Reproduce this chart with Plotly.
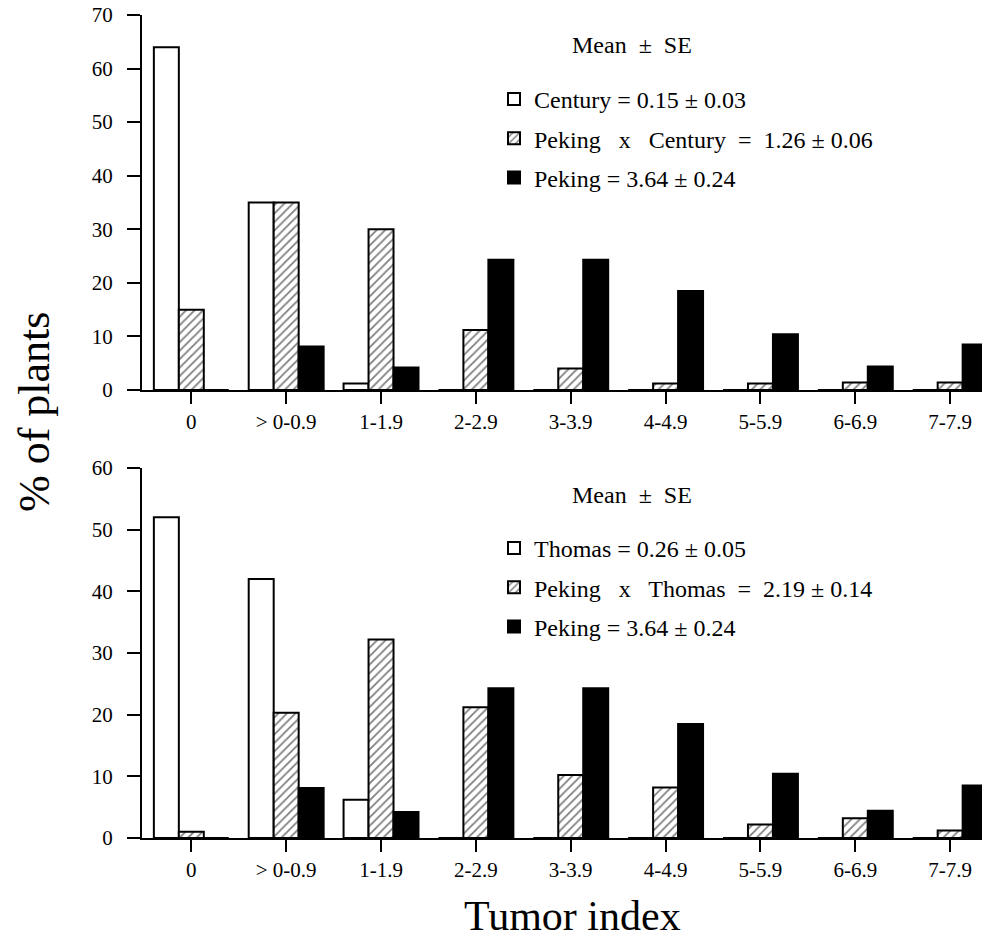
import plotly.graph_objects as go

categories = ["0", "> 0-0.9", "1-1.9", "2-2.9", "3-3.9", "4-4.9", "5-5.9", "6-6.9", "7-7.9"]

century = [64, 35, 1.2, 0, 0, 0, 0, 0, 0]
peking_x_century = [15, 35, 30, 11.2, 4, 1.2, 1.2, 1.4, 1.4]
thomas = [52, 42, 6.2, 0, 0, 0, 0, 0, 0]
peking_x_thomas = [1, 20.3, 32.2, 21.2, 10.2, 8.2, 2.2, 3.2, 1.2]
peking = [0, 8.1, 4.2, 24.3, 24.3, 18.5, 10.4, 4.4, 8.5]

top_labels = ["Century = 0.15 ± 0.03", "Peking   x   Century  =  1.26 ± 0.06", "Peking = 3.64 ± 0.24"]
bot_labels = ["Thomas = 0.26 ± 0.05", "Peking   x   Thomas  =  2.19 ± 0.14", "Peking = 3.64 ± 0.24"]

FONT = "Liberation Serif"
# page body has an 8px default margin; figure is sized to fit the window
W, H = 982, 932

white = dict(color="white", line=dict(color="black", width=2))
hatch = dict(color="white", line=dict(color="black", width=2),
             pattern=dict(shape="/", fgcolor="black", bgcolor="white", size=6, solidity=0.3))
black = dict(color="black", line=dict(color="black", width=2))

fig = go.Figure()
series_top = [(century, white, top_labels[0]), (peking_x_century, hatch, top_labels[1]), (peking, black, top_labels[2])]
series_bot = [(thomas, white, bot_labels[0]), (peking_x_thomas, hatch, bot_labels[1]), (peking, black, bot_labels[2])]

for i, (vals, mk, name) in enumerate(series_top):
    fig.add_trace(go.Bar(x=categories, y=vals, marker=mk, name=name, xaxis="x", yaxis="y",
                         offsetgroup=str(i), legend="legend", legendgroup="t%d" % i))
for i, (vals, mk, name) in enumerate(series_bot):
    fig.add_trace(go.Bar(x=categories, y=vals, marker=mk, name=name, xaxis="x2", yaxis="y2",
                         offsetgroup=str(i), legend="legend2", legendgroup="b%d" % i))

xdom = [134 / W, 1.0]
ytop = [1 - 382 / H, 1 - 7 / H]
ybot = [1 - 830 / H, 1 - 460 / H]

axis_common = dict(showline=True, linecolor="black", linewidth=2, ticks="outside",
                   tickcolor="black", tickwidth=1.5, showgrid=False, zeroline=False,
                   tickfont=dict(family=FONT, size=21, color="black"), automargin=False,
                   ticklabeloverflow="allow")

xr = [-0.52, 8.42]
legend_font = dict(family=FONT, size=24, color="black")
fig.update_layout(
    width=W, height=H,
    margin=dict(l=0, r=0, t=0, b=0),
    paper_bgcolor="white", plot_bgcolor="white",
    barmode="group", bargap=0.21, bargroupgap=0,
    font=dict(family=FONT, color="black"),
    xaxis=dict(domain=xdom, anchor="y", range=xr, ticklen=12, **axis_common),
    yaxis=dict(domain=ytop, anchor="x", range=[0, 70], tickvals=[0, 10, 20, 30, 40, 50, 60, 70],
               ticklen=13, ticklabelstandoff=10, **axis_common),
    xaxis2=dict(domain=xdom, anchor="y2", range=xr, ticklen=12, **axis_common),
    yaxis2=dict(domain=ybot, anchor="x2", range=[0, 60], tickvals=[0, 10, 20, 30, 40, 50, 60],
                ticklen=13, ticklabelstandoff=10, **axis_common),
    legend=dict(x=486 / W, y=1 - 69 / H, xanchor="left", yanchor="top",
                font=legend_font, bgcolor="rgba(0,0,0,0)",
                traceorder="grouped", tracegroupgap=5, itemwidth=30),
    legend2=dict(x=486 / W, y=1 - 518 / H, xanchor="left", yanchor="top",
                 font=legend_font, bgcolor="rgba(0,0,0,0)",
                 traceorder="grouped", tracegroupgap=5, itemwidth=30),
)

ann = dict(xref="paper", yref="paper", showarrow=False, xanchor="center", yanchor="middle")
fig.add_annotation(text="Mean  ±  SE", x=624 / W, y=1 - 37 / H,
                   font=dict(family=FONT, size=24, color="black"), **ann)
fig.add_annotation(text="Mean  ±  SE", x=624 / W, y=1 - 487 / H,
                   font=dict(family=FONT, size=24, color="black"), **ann)
fig.add_annotation(text="% of plants", x=26 / W, y=1 - 404 / H, textangle=-90,
                   font=dict(family=FONT, size=44, color="black"), **ann)
fig.add_annotation(text="Tumor index", x=564 / W, y=1 - 908 / H,
                   font=dict(family=FONT, size=42, color="black"), **ann)

fig.write_html("out.html")
